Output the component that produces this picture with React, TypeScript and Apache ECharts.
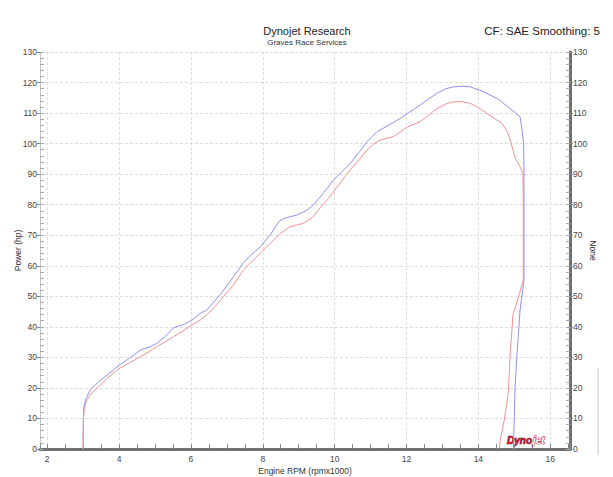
import React, { useEffect, useRef } from 'react';
import * as echarts from 'echarts';

// run 1 (blue)
const blueRpm = [
  3.0, 3.0, 3.01, 3.02, 3.08, 3.2, 3.43, 3.7, 4.01, 4.3, 4.59, 4.87, 5.05, 5.3, 5.52, 5.8,
  6.03, 6.26, 6.44, 6.81, 7.1, 7.46, 7.7, 7.93, 8.2, 8.45, 8.58, 8.95, 9.2, 9.41, 9.7, 9.97,
  10.2, 10.43, 10.7, 10.9, 11.18, 11.5, 11.82, 12.1, 12.38, 12.6, 12.85, 13.1, 13.31, 13.55,
  13.77, 14.1, 14.52, 14.85, 15.16, 15.22, 15.26, 15.27, 15.27, 15.27, 15.16, 15.07, 15.02,
  15.0, 14.98, 14.98,
];
const bluePower = [
  0, 5, 10, 13.8, 16.5, 19.3, 22, 24.5, 27.5, 29.8, 32.4, 33.5, 34.6, 37, 39.7, 40.8,
  42.2, 44.4, 45.5, 50.5, 55, 61, 63.8, 66.2, 70, 74.5, 75.5, 76.6, 78, 79.9, 84, 88.1,
  90.8, 93.5, 97.5, 100.6, 103.9, 106, 108.2, 110.5, 112.6, 114.5, 116.5, 118, 118.6, 118.8,
  118.6, 117.2, 114.8, 111.8, 108.8, 104, 100, 90, 75, 55.3, 45.5, 30.2, 20,
  10.6, 2.9, 0,
];

// run 2 (red)
const redRpm = [
  3.0, 3.0, 3.01, 3.03, 3.1, 3.25, 3.43, 3.7, 4.01, 4.3, 4.59, 4.85, 5.05, 5.3, 5.52, 5.8,
  6.03, 6.26, 6.44, 6.7, 6.91, 7.2, 7.46, 7.75, 8.02, 8.25, 8.49, 8.76, 9.13, 9.35, 9.51,
  9.75, 9.97, 10.2, 10.43, 10.7, 10.9, 11.1, 11.27, 11.64, 12.0, 12.38, 12.6, 12.85, 13.1,
  13.31, 13.55, 13.77, 14.0, 14.24, 14.45, 14.66, 14.8, 14.89, 14.96, 15.03, 15.16, 15.24,
  15.25, 15.25, 15.25, 15.12, 14.96, 14.93, 14.89, 14.86, 14.84, 14.78, 14.72, 14.61, 14.58,
];
const redPower = [
  0, 5, 10, 13, 16, 18.5, 20.4, 23.5, 26.4, 28.3, 30.2, 32, 33.5, 35.2, 36.8, 38.8,
  40.6, 42.2, 43.9, 47, 49.9, 54, 58.6, 62, 65.2, 67.8, 70.6, 72.8, 73.9, 75.5, 77.7,
  81, 84.3, 87.8, 91.4, 95, 97.9, 100, 101.2, 102.3, 105.3, 107.2, 109.2, 111.5, 113,
  113.7, 113.7, 113.2, 111.8, 109.9, 108.2, 106.6, 104, 101.2, 98, 95.2, 92.4, 90.3,
  80, 70, 55.3, 49.9, 43.9, 38, 32.4, 25, 19.3, 14, 9.5, 2.9, 0,
];

const xMin = 1.8;
const xMax = 16.55;
const yMin = 0;
const yMax = 130;

const FONT = 'Liberation Sans';

const isEvenInt = (v: number) => {
  const r = Math.round(v);
  return Math.abs(v - r) < 1e-6 && r % 2 === 0;
};

const App: React.FC = () => {
  const chartRef = useRef<HTMLDivElement | null>(null);

  useEffect(() => {
    document.body.style.margin = '0';
    if (!chartRef.current) return;
    const chart = echarts.init(chartRef.current, null, { renderer: 'svg' });

    const gridLine = { show: true, lineStyle: { color: '#dedede', type: [3, 2] as any, width: 1 } };
    const labelStyle = { fontSize: 8.5, color: '#444', fontFamily: FONT };
    const nameStyle = { fontSize: 8.5, color: '#333', fontFamily: FONT };

    const option = {
      animation: false,
      backgroundColor: '#ffffff',
      grid: { left: 40, right: 43, top: 52, bottom: 28, outerBoundsMode: 'none', containLabel: false },
      xAxis: {
        type: 'value',
        min: xMin,
        max: xMax,
        splitNumber: 7,
        name: 'Engine RPM (rpmx1000)',
        nameLocation: 'middle',
        nameGap: 17,
        nameMoveOverlap: false,
        nameTextStyle: nameStyle,
        axisLine: { show: true, lineStyle: { color: '#707070', width: 3 } },
        axisTick: { show: true, inside: true, length: 5, lineStyle: { color: '#888' } },
        minorTick: { show: true, splitNumber: 4, length: 5, lineStyle: { color: '#888' } },
        axisLabel: {
          ...labelStyle,
          margin: 5,
          showMinLabel: false,
          showMaxLabel: false,
          formatter: (v: number) => (isEvenInt(v) ? String(Math.round(v)) : ''),
        },
        splitLine: gridLine,
      },
      yAxis: [
        {
          type: 'value',
          position: 'left',
          min: yMin,
          max: yMax,
          interval: 10,
          offset: 0,
          name: 'Power (hp)',
          nameLocation: 'middle',
          nameGap: 18,
          nameMoveOverlap: false,
          nameTextStyle: nameStyle,
          axisLine: { show: true, lineStyle: { color: '#c4c4c4', width: 1 } },
          axisTick: { show: true, inside: false, length: 3, lineStyle: { color: '#888' } },
          axisLabel: { ...labelStyle, margin: 3 },
          splitLine: gridLine,
        },
        {
          type: 'value',
          position: 'left',
          min: yMin,
          max: yMax,
          interval: 2,
          offset: 0,
          axisLine: { show: false },
          axisTick: { show: true, inside: true, length: 4, lineStyle: { color: '#aaa' } },
          axisLabel: { show: false },
          splitLine: { show: false },
        },
        {
          type: 'value',
          position: 'right',
          min: yMin,
          max: yMax,
          interval: 10,
          offset: 0,
          name: 'None',
          nameLocation: 'middle',
          nameGap: 18,
          nameRotate: -90,
          nameMoveOverlap: false,
          nameTextStyle: nameStyle,
          axisLine: { show: true, lineStyle: { color: '#707070', width: 3 } },
          axisTick: { show: true, inside: false, length: 3, lineStyle: { color: '#888' } },
          axisLabel: { ...labelStyle, margin: 3 },
          splitLine: { show: false },
        },
        {
          type: 'value',
          position: 'right',
          min: yMin,
          max: yMax,
          interval: 2,
          offset: 0,
          axisLine: { show: false },
          axisTick: { show: true, inside: true, length: 4, lineStyle: { color: '#aaa' } },
          axisLabel: { show: false },
          splitLine: { show: false },
        },
      ],
      series: [
        {
          name: 'Run 1',
          type: 'line',
          yAxisIndex: 0,
          showSymbol: false,
          data: blueRpm.map((r, i) => [r, bluePower[i]]),
          lineStyle: { color: '#9090f2', width: 1 },
          itemStyle: { color: '#9090f2' },
        },
        {
          name: 'Run 2',
          type: 'line',
          yAxisIndex: 0,
          showSymbol: false,
          data: redRpm.map((r, i) => [r, redPower[i]]),
          lineStyle: { color: '#f29090', width: 1 },
          itemStyle: { color: '#f29090' },
        },
      ],
      graphic: [
        {
          type: 'text',
          x: 307,
          y: 31,
          style: {
            text: 'Dynojet Research',
            fontSize: 11,
            fontFamily: FONT,
            fill: '#222',
            align: 'center',
            verticalAlign: 'middle',
          },
        },
        {
          type: 'text',
          x: 307,
          y: 42,
          style: {
            text: 'Graves Race Services',
            fontSize: 8,
            fontFamily: FONT,
            fill: '#333',
            align: 'center',
            verticalAlign: 'middle',
          },
        },
        {
          type: 'text',
          x: 600,
          y: 31,
          style: {
            text: 'CF: SAE Smoothing: 5',
            fontSize: 11.5,
            fontFamily: FONT,
            fill: '#222',
            align: 'right',
            verticalAlign: 'middle',
          },
        },
        {
          type: 'text',
          x: 507,
          y: 440,
          style: {
            text: 'Dyno',
            fontSize: 10,
            fontWeight: 'bold',
            fontStyle: 'italic',
            fontFamily: FONT,
            fill: '#c8102e',
            stroke: '#3a0000',
            lineWidth: 0.6,
            verticalAlign: 'middle',
          },
        },
        {
          type: 'text',
          x: 533,
          y: 440,
          style: {
            text: 'jet',
            fontSize: 10,
            fontWeight: 'bold',
            fontStyle: 'italic',
            fontFamily: FONT,
            fill: '#ffffff',
            stroke: '#c8102e',
            lineWidth: 1,
            verticalAlign: 'middle',
          },
        },
        {
          type: 'line',
          shape: { x1: 598, y1: 368, x2: 598, y2: 455 },
          style: { stroke: '#c8c8c8', lineWidth: 1 },
        },
      ],
    };

    chart.setOption(option as any);
    return () => {
      chart.dispose();
    };
  }, []);

  return <div ref={chartRef} style={{ width: '613px', height: '477px' }} />;
};

export default App;
